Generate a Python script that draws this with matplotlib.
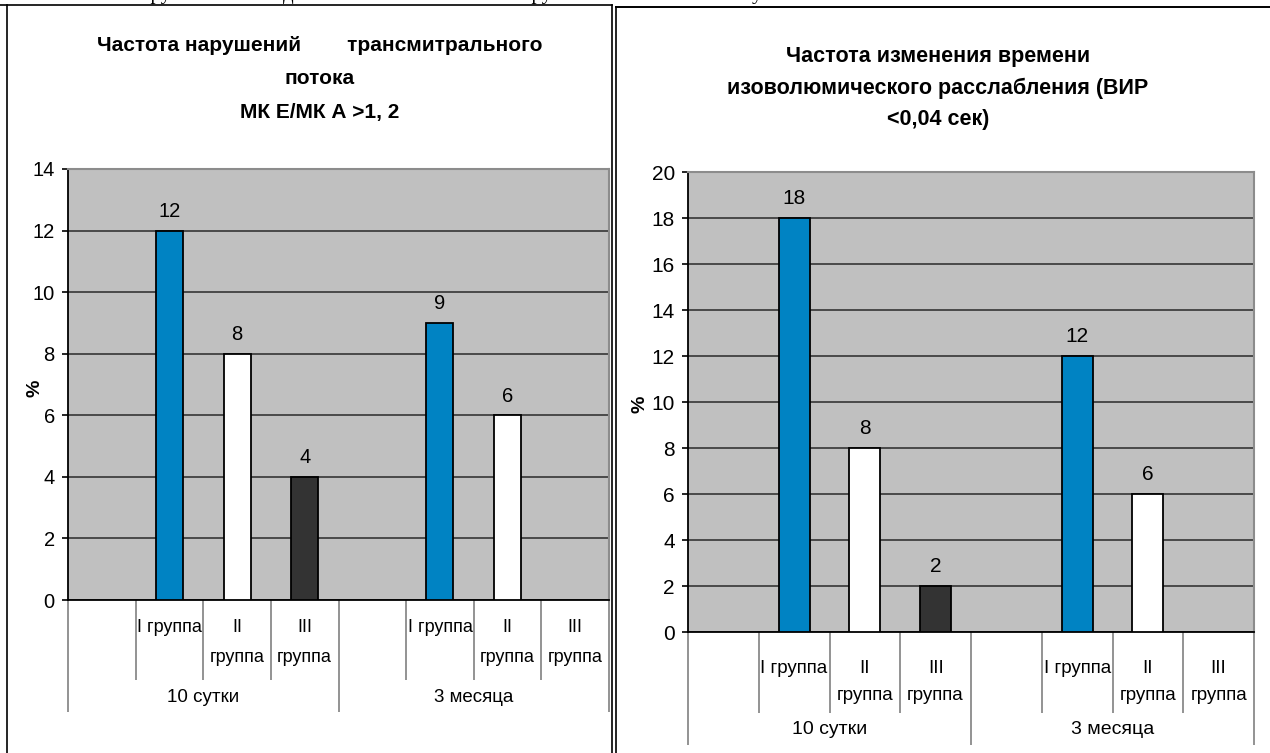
import matplotlib.pyplot as plt
import matplotlib.transforms as mtransforms
from matplotlib.lines import Line2D

W, H = 1270, 753

periods = ["10 сутки", "3 месяца"]
groups = ["I группа", "II\nгруппа", "III\nгруппа"]
bar_colors = ["#0083c3", "#ffffff", "#333333"]

# трансмитральный поток
mitral_title = "Частота нарушений        трансмитрального\nпотока\nМК Е/МК А >1, 2"
mitral_10d = [12, 8, 4]
mitral_3m = [9, 6, None]
mitral_ymax = 14

# время изоволюмического расслабления
ivrt_title = "Частота изменения времени\nизоволюмического расслабления (ВИР\n<0,04 сек)"
ivrt_10d = [18, 8, 2]
ivrt_3m = [12, 6, None]
ivrt_ymax = 20

plt.rcParams["font.family"] = ["Liberation Sans", "DejaVu Sans"]


def px_axes(fig, x0, y0, x1, y1):
    # pixel box (top-left origin) -> figure axes
    return fig.add_axes([x0 / W, 1 - y1 / H, (x1 - x0) / W, (y1 - y0) / H])


def below(ax, dy):
    base = mtransforms.blended_transform_factory(ax.transData, ax.transAxes)
    return base + mtransforms.ScaledTranslation(0, -dy / 100, ax.figure.dpi_scale_trans)


def fline(fig, xs, ys, **kw):
    fig.add_artist(Line2D([x / W for x in xs], [1 - y / H for y in ys],
                          transform=fig.transFigure, **kw))


def draw_panel(ax, series, ymax, width, fs, cat_fs, cat_ls, lab_top, long_len,
               short_len, per_dy):
    ax.set_facecolor("#c0c0c0")
    ax.set_xlim(0, 8)
    ax.set_ylim(0, ymax)
    ax.set_yticks(range(0, ymax + 1, 2))
    ax.set_axisbelow(True)
    ax.yaxis.grid(True, color="#404040", lw=1.3)

    for p, vals in enumerate(series):
        for g, v in enumerate(vals):
            x = p * 4 + 1 + g + 0.5
            if v is None:
                continue
            ax.bar(x, v, width, color=bar_colors[g], edgecolor="black", lw=1.3, zorder=3)
            ax.annotate(str(v), (x, v), xytext=(0, 7), textcoords="offset points",
                        ha="center", va="bottom", fontsize=fs)

    for p, name in enumerate(periods):
        for g, gname in enumerate(groups):
            x = p * 4 + 1 + g + 0.5
            ax.text(x, 0, gname, transform=below(ax, lab_top), ha="center", va="top",
                    fontsize=cat_fs, linespacing=cat_ls)
        ax.text(p * 4 + 2, 0, name, transform=below(ax, per_dy), ha="center",
                va="center", fontsize=cat_fs + 0.5)

    # category dividers under the axis
    ax.set_xticks([0, 4, 8])
    ax.set_xticks([1, 2, 3, 5, 6, 7], minor=True)
    ax.tick_params(axis="x", which="major", length=long_len * 0.72, color="#808080",
                   width=1.2, labelbottom=False)
    ax.tick_params(axis="x", which="minor", length=short_len * 0.72, color="#808080",
                   width=1.2)
    ax.tick_params(axis="y", length=4.5, width=1.2, labelsize=fs, pad=5)

    for side in ("top", "right"):
        ax.spines[side].set_color("#8c8c8c")
        ax.spines[side].set_linewidth(1.5)
    for side in ("left", "bottom"):
        ax.spines[side].set_color("black")
        ax.spines[side].set_linewidth(1.3)


fig = plt.figure(figsize=(W / 100, H / 100), dpi=100)

# table frame
fline(fig, [0, 612], [5, 5], color="black", lw=1.2)
fline(fig, [7, 7], [5, H], color="black", lw=1.2)
fline(fig, [612, 612], [5, H], color="black", lw=1.2)
fline(fig, [616, W], [7, 7], color="black", lw=1.4)
fline(fig, [616, 616], [7, H], color="black", lw=1.2)

# the line of body text above the table, mostly cut by the page edge
for word, x in [("группы", 143), ("д", 283), ("группы", 524), ("у", 752)]:
    fig.text(x / W, 1 + 1.5 / H, word, family="Liberation Serif", fontsize=15,
             ha="left", va="baseline")

ax1 = px_axes(fig, 68, 169, 609, 600)
draw_panel(ax1, [mitral_10d, mitral_3m], mitral_ymax, 0.4, 14.5, 13, 2.0,
           lab_top=19, long_len=112, short_len=80, per_dy=97)
fig.text(320 / W, 1 - 79 / H, mitral_title, ha="center", va="center",
         fontsize=15, fontweight="bold", linespacing=1.95)
ax1.text((35 - 68) / 541, (600 - 388) / 431, "%", transform=ax1.transAxes,
         rotation=90, ha="center", va="center", fontsize=14, fontweight="bold")

ax2 = px_axes(fig, 688, 172, 1254, 632)
draw_panel(ax2, [ivrt_10d, ivrt_3m], ivrt_ymax, 0.44, 15, 13.5, 1.75,
           lab_top=28, long_len=113, short_len=81, per_dy=98)
fig.text(938 / W, 1 - 88 / H, ivrt_title, ha="center", va="center",
         fontsize=15.5, fontweight="bold", linespacing=1.65)
ax2.text((640 - 688) / 566, (632 - 404) / 460, "%", transform=ax2.transAxes,
         rotation=90, ha="center", va="center", fontsize=14, fontweight="bold")

fig.savefig("out.png", dpi=100, facecolor="white")
